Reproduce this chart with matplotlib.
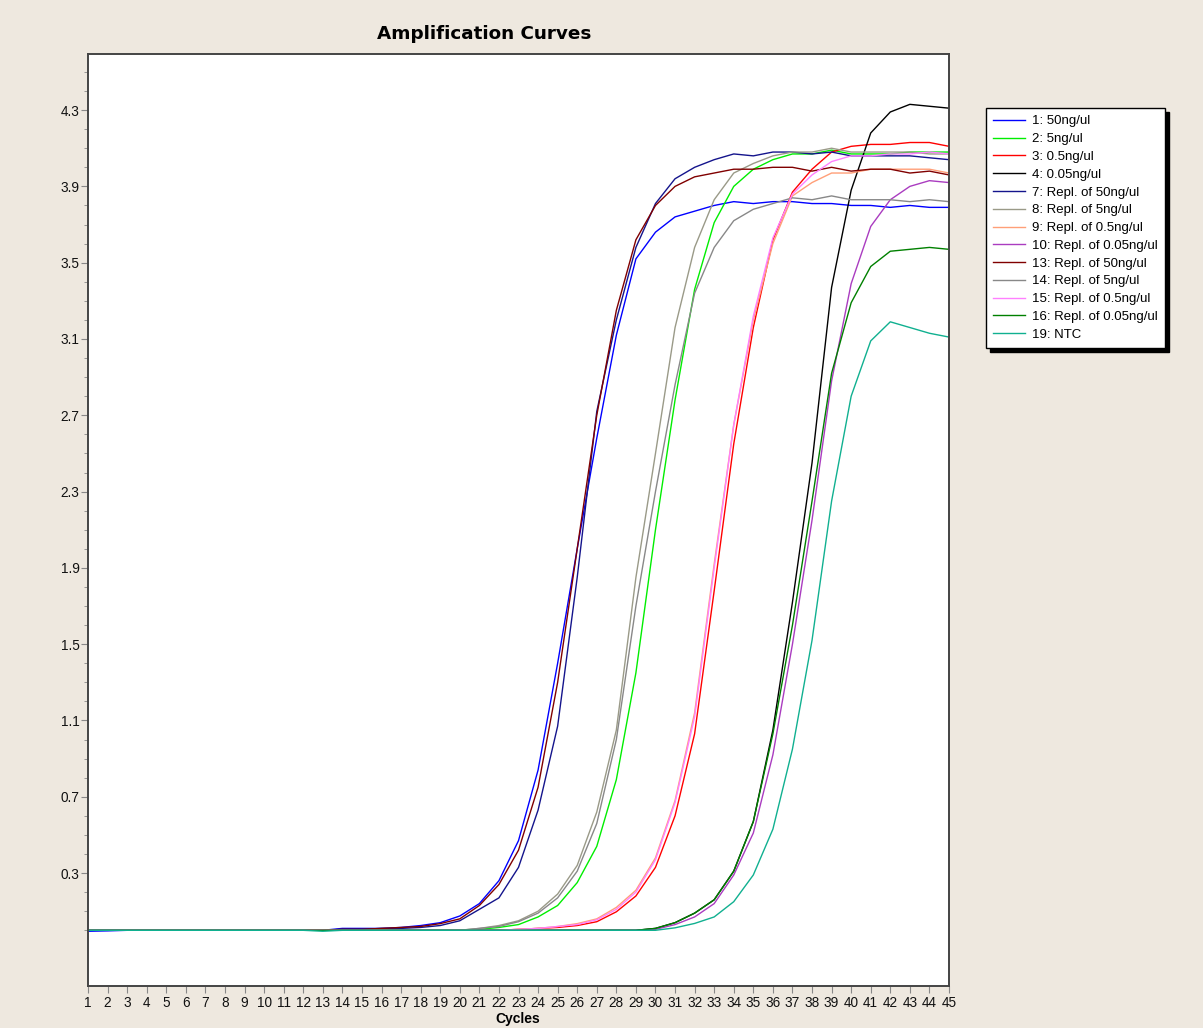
import matplotlib
matplotlib.use("Agg")
import matplotlib.pyplot as plt
from matplotlib.ticker import MultipleLocator, FixedLocator

plt.rcParams['font.family'] = ['Liberation Sans', 'DejaVu Sans']

cycles = list(range(1, 46))

# fluorescence per cycle
s1_50 = [-0.005, -0.003, 0, 0, 0, 0, 0, 0, 0, 0, 0, 0, 0, 0.01, 0.01, 0.01, 0.015, 0.025, 0.04, 0.075,
         0.14, 0.26, 0.47, 0.84, 1.40, 2.0, 2.58, 3.12, 3.52, 3.66, 3.74, 3.77, 3.80, 3.82, 3.81,
         3.82, 3.82, 3.81, 3.81, 3.80, 3.80, 3.79, 3.80, 3.79, 3.79]
s2_5 = [0, 0, 0, 0, 0, 0, 0, 0, 0, 0, 0, 0, 0, 0, 0, 0, 0, 0, 0, 0,
        0.005, 0.015, 0.03, 0.07, 0.13, 0.25, 0.44, 0.79, 1.35, 2.1, 2.78, 3.36, 3.71, 3.90, 3.99,
        4.04, 4.07, 4.07, 4.09, 4.07, 4.07, 4.07, 4.08, 4.08, 4.08]
s3_05 = [0, 0, 0, 0, 0, 0, 0, 0, 0, 0, 0, 0, 0, 0, 0, 0, 0, 0, 0, 0,
         0, 0, 0.005, 0.01, 0.015, 0.025, 0.045, 0.097, 0.18, 0.33, 0.6, 1.03, 1.78, 2.55, 3.16,
         3.62, 3.87, 3.99, 4.08, 4.11, 4.12, 4.12, 4.13, 4.13, 4.11]
s4_005 = [0, 0, 0, 0, 0, 0, 0, 0, 0, 0, 0, 0, 0, 0, 0, 0, 0, 0, 0, 0,
          0, 0, 0, 0, 0, 0, 0, 0, 0, 0.01, 0.04, 0.09, 0.16, 0.31, 0.57,
          1.05, 1.72, 2.45, 3.37, 3.88, 4.18, 4.29, 4.33, 4.32, 4.31]
s7_50 = [0, 0, 0, 0, 0, 0, 0, 0, 0, 0, 0, 0, 0, 0.005, 0.005, 0.01, 0.01, 0.015, 0.025, 0.05,
         0.11, 0.17, 0.33, 0.63, 1.07, 1.85, 2.72, 3.2, 3.58, 3.81, 3.94, 4.0, 4.04, 4.07, 4.06,
         4.08, 4.08, 4.07, 4.08, 4.06, 4.06, 4.06, 4.06, 4.05, 4.04]
s8_5 = [0, 0, 0, 0, 0, 0, 0, 0, 0, 0, 0, 0, 0, 0, 0, 0, 0, 0, 0, 0,
        0.01, 0.025, 0.05, 0.1, 0.19, 0.34, 0.62, 1.05, 1.85, 2.5, 3.16, 3.58, 3.83, 3.97, 4.02,
        4.06, 4.08, 4.08, 4.10, 4.08, 4.08, 4.08, 4.08, 4.07, 4.07]
s9_05 = [0, 0, 0, 0, 0, 0, 0, 0, 0, 0, 0, 0, 0, 0, 0, 0, 0, 0, 0, 0,
         0, 0, 0.005, 0.01, 0.02, 0.035, 0.06, 0.12, 0.21, 0.38, 0.68, 1.14, 1.92, 2.65, 3.2,
         3.6, 3.85, 3.92, 3.97, 3.97, 3.99, 3.99, 3.99, 3.99, 3.97]
s10_005 = [0, 0, 0, 0, 0, 0, 0, 0, 0, 0, 0, 0, 0, 0, 0, 0, 0, 0, 0, 0,
           0, 0, 0, 0, 0, 0, 0, 0, 0, 0.005, 0.03, 0.07, 0.14, 0.29, 0.51,
           0.92, 1.5, 2.15, 2.88, 3.39, 3.69, 3.83, 3.90, 3.93, 3.92]
s13_50 = [0, 0, 0, 0, 0, 0, 0, 0, 0, 0, 0, 0, 0, 0.005, 0.005, 0.01, 0.015, 0.02, 0.035, 0.06,
          0.13, 0.24, 0.42, 0.75, 1.3, 2.0, 2.7, 3.25, 3.62, 3.80, 3.90, 3.95, 3.97, 3.99, 3.99,
          4.0, 4.0, 3.98, 4.0, 3.98, 3.99, 3.99, 3.97, 3.98, 3.96]
s14_5 = [0, 0, 0, 0, 0, 0, 0, 0, 0, 0, 0, 0, 0, 0, 0, 0, 0, 0, 0, 0,
         0.01, 0.02, 0.045, 0.09, 0.17, 0.31, 0.56, 1.0, 1.7, 2.3, 2.86, 3.34, 3.58, 3.72, 3.78,
         3.81, 3.84, 3.83, 3.85, 3.83, 3.83, 3.83, 3.82, 3.83, 3.82]
s15_05 = [0, 0, 0, 0, 0, 0, 0, 0, 0, 0, 0, 0, 0, 0, 0, 0, 0, 0, 0, 0,
          0, 0, 0.005, 0.01, 0.02, 0.03, 0.055, 0.11, 0.2, 0.37, 0.67, 1.12, 1.9, 2.65, 3.22,
          3.63, 3.86, 3.96, 4.03, 4.06, 4.06, 4.07, 4.07, 4.08, 4.07]
s16_005 = [0, 0, 0, 0, 0, 0, 0, 0, 0, 0, 0, 0, 0, 0, 0, 0, 0, 0, 0, 0,
           0, 0, 0, 0, 0, 0, 0, 0, 0, 0.01, 0.04, 0.09, 0.16, 0.31, 0.57,
           1.03, 1.6, 2.25, 2.92, 3.29, 3.48, 3.56, 3.57, 3.58, 3.57]
s19_ntc = [0, 0, 0, 0, 0, 0, 0, 0, 0, 0, 0, 0, -0.005, 0, 0, 0, 0, 0, 0, 0,
           0, 0, 0, 0, 0, 0, 0, 0, 0, 0, 0.013, 0.036, 0.07, 0.15, 0.29,
           0.53, 0.95, 1.52, 2.25, 2.8, 3.09, 3.19, 3.16, 3.13, 3.11]

labels = ["1: 50ng/ul", "2: 5ng/ul", "3: 0.5ng/ul", "4: 0.05ng/ul",
          "7: Repl. of 50ng/ul", "8: Repl. of 5ng/ul", "9: Repl. of 0.5ng/ul",
          "10: Repl. of 0.05ng/ul", "13: Repl. of 50ng/ul", "14: Repl. of 5ng/ul",
          "15: Repl. of 0.5ng/ul", "16: Repl. of 0.05ng/ul", "19: NTC"]
series = [s1_50, s2_5, s3_05, s4_005, s7_50, s8_5, s9_05, s10_005,
          s13_50, s14_5, s15_05, s16_005, s19_ntc]
colors = ["#0000ff", "#00ee00", "#ff0000", "#000000", "#14148c", "#9a9a88",
          "#ff9f78", "#aa3cc0", "#800000", "#888888", "#ff80ff", "#008000", "#10b090"]

bg = "#eee8df"
lib = "Liberation Sans"
fig = plt.figure(figsize=(12.03, 10.28), dpi=100, facecolor=bg)
ax = fig.add_axes([88 / 1203, 42 / 1028, 861 / 1203, 932 / 1028])
ax.set_facecolor("white")

for ys, c, lab in zip(series, colors, labels):
    ax.plot(cycles, ys, color=c, lw=1.0, label=lab)

ax.set_xlim(1, 45)
ax.set_ylim(-0.292, 4.594)
ax.xaxis.set_major_locator(MultipleLocator(1))
ax.yaxis.set_major_locator(FixedLocator([0.3, 0.7, 1.1, 1.5, 1.9, 2.3, 2.7, 3.1, 3.5, 3.9, 4.3]))
ax.yaxis.set_minor_locator(FixedLocator([round(0.1 * i, 1) for i in range(0, 46)]))
ax.tick_params(axis="both", which="both", direction="out", color="#888888",
               labelcolor="#111111")
ax.tick_params(axis="x", which="major", length=5, pad=2)
ax.tick_params(axis="y", which="major", length=5, pad=1)
ax.tick_params(axis="y", which="minor", length=3)
for t in ax.get_xticklabels() + ax.get_yticklabels():
    t.set_family(lib)
    t.set_fontsize(9.8)
for sp in ax.spines.values():
    sp.set_color("#444444")
    sp.set_linewidth(1.4)

fig.text(484 / 1203, 1 - 34 / 1028, "Amplification Curves", ha="center", va="center",
         fontsize=13.2, fontweight="bold", family="DejaVu Sans")
fig.text(518 / 1203, 1 - 1019 / 1028, "Cycles", ha="center", va="center",
         fontsize=10, fontweight="bold", family=lib)

leg = ax.legend(loc="upper left", bbox_to_anchor=(986 / 1203, 1 - 108 / 1028),
                bbox_transform=fig.transFigure, borderaxespad=0, fancybox=False,
                framealpha=1, edgecolor="black", prop={"family": lib, "size": 9.5},
                handlelength=2.4, labelspacing=0.42, borderpad=0.55, handletextpad=0.5,
                shadow={"color": "black", "alpha": 1, "ox": 3, "oy": -3})
leg.get_frame().set_linewidth(1.0)

fig.savefig("out.png", dpi=100, facecolor=bg)
